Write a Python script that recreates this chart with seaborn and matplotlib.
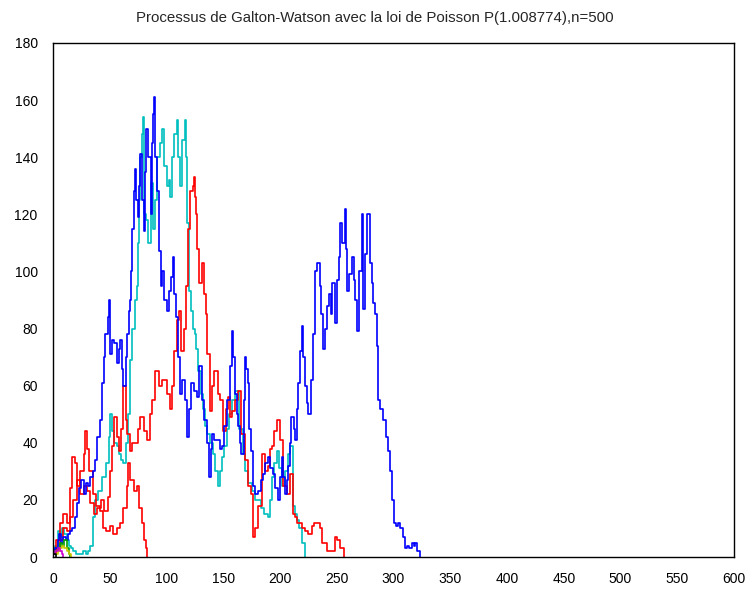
import matplotlib
matplotlib.use("Agg")
import matplotlib.pyplot as plt
import pandas as pd
import seaborn as sns
from matplotlib.ticker import MultipleLocator, FuncFormatter

title = "Processus de Galton-Watson avec la loi de Poisson P(1.008774),n=500"

# Population size per generation, one trajectory per list pair
blue_gen = [0, 2, 4, 5, 7, 9, 11, 13, 15, 17, 19, 21, 23, 25, 27, 29, 31, 33, 35, 37,
            39, 41, 43, 45, 46, 48, 49, 50, 52, 54, 56, 58, 59, 61, 62, 64, 65, 67, 68, 69,
            70, 71, 72, 73, 75, 76, 77, 78, 80, 81, 82, 84, 86, 87, 88, 89, 90, 92, 93, 95,
            96, 98, 100, 102, 104, 106, 107, 108, 110, 112, 114, 116, 118, 120, 122, 124, 127, 129, 131, 133,
            136, 137, 139, 140, 142, 144, 147, 149, 151, 153, 156, 158, 159, 160, 162, 163, 165, 166, 168, 169,
            170, 172, 173, 174, 176, 178, 181, 183, 185, 187, 189, 191, 194, 196, 198, 200, 202, 203, 204, 206,
            207, 209, 210, 212, 213, 215, 216, 218, 219, 220, 222, 224, 225, 227, 229, 231, 233, 235, 236, 238,
            240, 241, 243, 245, 246, 248, 250, 252, 253, 255, 257, 258, 259, 261, 263, 265, 266, 268, 270, 272,
            273, 275, 277, 279, 281, 282, 284, 285, 286, 288, 291, 293, 295, 297, 299, 300, 302, 304, 306, 308,
            310, 312, 314, 316, 318, 319, 321, 323]
blue_size = [1, 3, 6, 8, 5, 7, 6, 8, 9, 10, 14, 19, 24, 27, 22, 26, 25, 28, 30, 34,
             42, 48, 61, 70, 78, 84, 90, 71, 76, 75, 68, 73, 76, 66, 60, 70, 78, 86, 90, 100,
             115, 128, 136, 125, 119, 130, 141, 125, 114, 135, 150, 140, 120, 145, 155, 161, 140, 128, 107, 95,
             100, 90, 86, 93, 98, 105, 92, 84, 70, 57, 62, 55, 42, 52, 61, 58, 56, 67, 55, 48,
             40, 28, 38, 43, 41, 41, 38, 39, 46, 55, 67, 79, 70, 57, 50, 46, 40, 36, 55, 70,
             66, 61, 45, 37, 25, 22, 23, 27, 29, 33, 35, 31, 29, 24, 20, 28, 35, 28, 22, 27,
             32, 40, 49, 45, 41, 52, 61, 72, 81, 70, 60, 54, 50, 62, 78, 100, 103, 95, 85, 73,
             80, 88, 92, 85, 96, 82, 97, 105, 117, 110, 122, 108, 93, 99, 105, 97, 90, 79, 100, 120,
             87, 106, 120, 103, 96, 89, 85, 74, 55, 52, 48, 42, 37, 30, 20, 12, 11, 12, 10, 7,
             3, 4, 3, 5, 4, 5, 2, 0]

cyan_gen = [0, 2, 4, 6, 8, 10, 12, 14, 16, 18, 20, 23, 26, 29, 31, 33, 35, 37, 40, 43,
            47, 49, 50, 52, 54, 56, 58, 60, 62, 64, 66, 68, 70, 72, 74, 75, 76, 77, 78, 79,
            80, 82, 84, 86, 88, 90, 92, 94, 96, 98, 100, 102, 103, 105, 107, 109, 110, 112, 114, 116,
            117, 118, 120, 122, 123, 125, 126, 128, 130, 132, 134, 136, 138, 141, 143, 145, 147, 149, 151, 153,
            155, 158, 160, 162, 164, 167, 169, 172, 175, 178, 180, 183, 186, 189, 191, 193, 195, 197, 199, 202,
            204, 207, 209, 211, 213, 215, 217, 219, 222]
cyan_size = [2, 4, 9, 7, 10, 8, 6, 4, 3, 2, 1, 1, 2, 1, 2, 4, 14, 20, 23, 28,
             33, 42, 50, 44, 40, 39, 36, 34, 33, 40, 50, 69, 80, 90, 95, 110, 125, 140, 148, 154,
             120, 118, 110, 131, 115, 125, 140, 145, 150, 137, 130, 132, 126, 140, 148, 153, 140, 130, 146, 153,
             140, 117, 93, 86, 80, 78, 73, 65, 57, 52, 46, 43, 40, 36, 30, 25, 30, 35, 39, 45,
             50, 55, 58, 58, 45, 36, 30, 26, 23, 20, 20, 17, 15, 14, 20, 28, 33, 37, 31, 25,
             30, 36, 39, 18, 15, 13, 10, 5, 0]

red_short_gen = [0, 3, 6, 9, 12, 15, 17, 19, 21, 24, 27, 28, 30, 32, 35, 38, 41, 44, 47, 50,
                 53, 56, 59, 62, 65, 66, 68, 71, 74, 76, 78, 80, 82, 83]
red_short_size = [2, 6, 12, 15, 12, 24, 35, 33, 25, 30, 36, 44, 38, 30, 22, 18, 16, 10, 9, 11,
                  8, 10, 12, 17, 25, 33, 27, 23, 25, 17, 12, 6, 3, 0]

red_long_gen = [0, 3, 6, 9, 12, 15, 18, 21, 24, 27, 30, 33, 36, 39, 42, 45, 48, 50, 52, 54,
                56, 58, 60, 62, 64, 65, 68, 70, 72, 75, 77, 80, 83, 85, 87, 90, 93, 96, 100, 103,
                105, 107, 109, 111, 113, 115, 117, 119, 121, 123, 124, 125, 126, 127, 129, 131, 133, 135, 136, 138,
                140, 142, 145, 147, 150, 152, 154, 156, 158, 160, 163, 166, 169, 172, 174, 176, 178, 181, 184, 187,
                189, 191, 193, 195, 197, 200, 203, 206, 209, 211, 213, 215, 219, 222, 225, 228, 230, 233, 235, 237,
                241, 245, 248, 250, 253, 256]
red_long_size = [1, 3, 6, 10, 9, 14, 20, 27, 22, 25, 23, 19, 15, 17, 20, 16, 21, 30, 39, 49,
                 42, 37, 45, 60, 48, 43, 37, 40, 40, 45, 49, 44, 41, 50, 55, 65, 60, 62, 57, 52,
                 60, 72, 83, 86, 72, 80, 95, 115, 128, 130, 133, 126, 120, 108, 96, 103, 92, 85, 71, 51,
                 60, 65, 57, 55, 44, 52, 56, 49, 51, 55, 58, 43, 34, 25, 22, 7, 10, 18, 36, 30,
                 32, 38, 39, 44, 48, 41, 25, 22, 29, 15, 14, 12, 10, 9, 8, 11, 12, 12, 10, 5,
                 2, 2, 7, 6, 3, 0]

green_gen = [0, 2, 4, 6, 8, 10, 12, 14, 15]
green_size = [1, 2, 3, 5, 4, 6, 3, 1, 0]

yellow_gen = [0, 2, 4, 6, 8, 10, 12, 14, 16]
yellow_size = [1, 1, 2, 3, 4, 3, 2, 1, 0]

magenta_gen = [0, 2, 4, 6, 8, 9]
magenta_size = [1, 2, 3, 2, 1, 0]

black_gen = [0, 2, 3]
black_size = [1, 1, 0]

trajectories = [
    ("Z4", cyan_gen, cyan_size, "#00bfbf"),
    ("Z5", red_short_gen, red_short_size, "#ff0000"),
    ("Z6", red_long_gen, red_long_size, "#ff0000"),
    ("Z2", blue_gen, blue_size, "#0000ff"),
    ("Z3", green_gen, green_size, "#00a000"),
    ("Z7", yellow_gen, yellow_size, "#c8c800"),
    ("Z8", magenta_gen, magenta_size, "#d000d0"),
    ("Z1", black_gen, black_size, "#000000"),
]

df = pd.concat(
    [pd.DataFrame({"generation": g, "taille": s, "trajectoire": name})
     for name, g, s, _ in trajectories],
    ignore_index=True,
)
palette = {name: c for name, _, _, c in trajectories}

sns.set_theme(style="white")
plt.rcParams["font.family"] = ["Liberation Sans", "DejaVu Sans"]

fig = plt.figure(figsize=(7.5, 5.89), dpi=100)
ax = fig.add_axes([0.0707, 0.0543, 0.9080, 0.8727])

sns.lineplot(
    data=df, x="generation", y="taille", hue="trajectoire",
    hue_order=[t[0] for t in trajectories], palette=palette,
    estimator=None, drawstyle="steps-post", linewidth=1.2,
    legend=False, ax=ax,
)

ax.set_xlim(0, 600)
ax.set_ylim(0, 180)
ax.xaxis.set_major_locator(MultipleLocator(50))
ax.yaxis.set_major_locator(MultipleLocator(10))
ax.yaxis.set_major_formatter(FuncFormatter(lambda v, p: f"{int(round(v))}" if int(round(v)) % 20 == 0 else ""))
ax.tick_params(axis="both", direction="out", length=6, width=1, color="black",
               labelsize=10, labelcolor="black")
ax.tick_params(axis="x", pad=5)
ax.tick_params(axis="y", pad=5)
ax.set_xlabel("")
ax.set_ylabel("")
for sp in ax.spines.values():
    sp.set_color("black")
    sp.set_linewidth(1.0)

fig.suptitle(title, y=0.982, fontsize=10.8)
fig.savefig("out.png", dpi=100)
